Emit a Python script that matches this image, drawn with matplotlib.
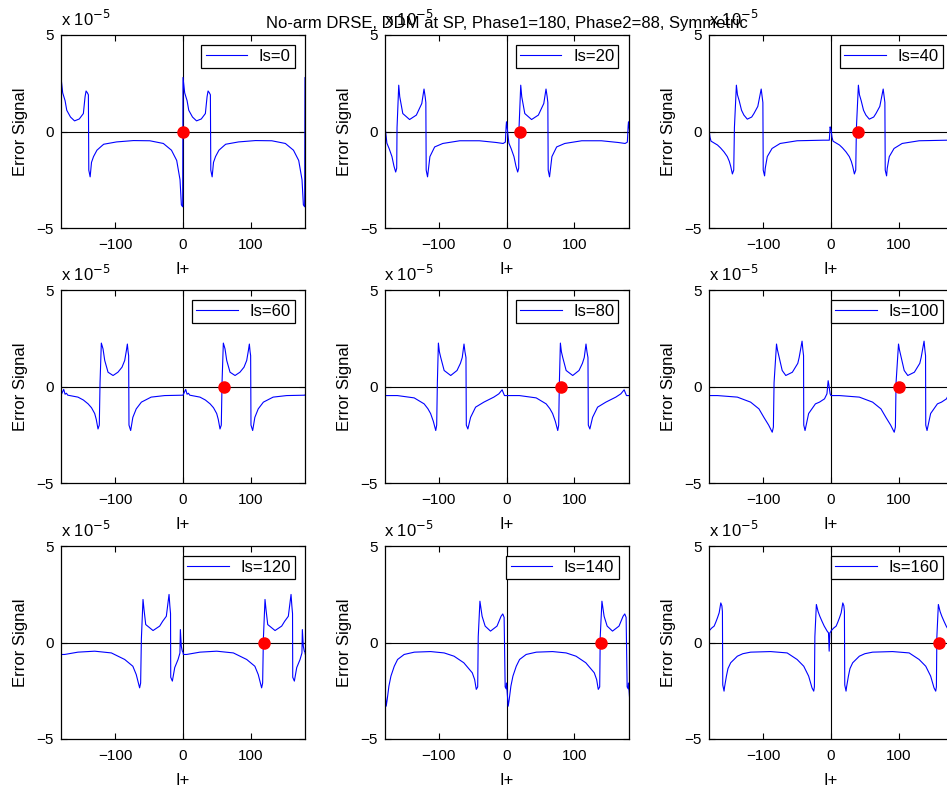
import numpy as np
import matplotlib.pyplot as plt

plt.rcParams['font.family'] = ['Liberation Sans', 'DejaVu Sans']
plt.rcParams['font.size'] = 12

title = "No-arm DRSE, DDM at SP, Phase1=180, Phase2=88, Symmetric"
ls_values = [0, 20, 40, 60, 80, 100, 120, 140, 160]

# one period (I+ from 0 to 180) of each trace, error signal in units of 1e-5
trace_ls0 = [(0, 2.8), (2.5, 2.0), (6, 1.6), (8.5, 1.1), (14, 0.75), (20, 0.55), (27, 0.65),
             (33, 0.93), (35.5, 1.8), (37, 2.1), (39, 2.0), (40.4, 1.9), (41, -2.0), (43, -2.35),
             (45, -1.6), (48, -1.3), (53, -0.97), (60, -0.75), (63, -0.66), (82, -0.54),
             (107, -0.47), (131, -0.48), (151, -0.62), (163, -0.97), (170.7, -1.5),
             (175.6, -2.5), (177.6, -3.8), (179.5, -3.9)]
trace_ls20 = [(0, 0.5), (1, 0.2), (3.5, -0.6), (7, -0.9), (11, -1.3), (14, -1.8), (16.5, -2.1),
              (18, -1.9), (18.5, 0.2), (21, 2.4), (22.5, 1.8), (27, 0.93), (37, 0.62), (47, 0.85),
              (55, 1.45), (58.3, 2.2), (60, 1.8), (61, 1.5), (61.5, -2.0), (63.5, -2.35),
              (67, -1.3), (74, -0.8), (86, -0.62), (111, -0.48), (140, -0.48), (165, -0.57),
              (175, -0.62), (178.3, -0.55), (179.5, 0.3)]
trace_ls40 = [(0, 0.1), (1.5, -0.3), (3, -0.5), (12.5, -0.7), (17, -0.85), (22, -1.05),
              (27, -1.3), (30, -1.55), (32, -1.8), (34.5, -2.2), (36.5, -2.0), (37.5, 0.2),
              (40.4, 2.4), (42, 1.9), (44.5, 1.6), (48, 1.1), (51.5, 0.85), (56.5, 0.64),
              (63, 0.75), (66.3, 0.93), (72, 1.3), (73.7, 1.6), (77, 2.2), (78.5, 1.8),
              (79.5, 1.5), (80, -2.0), (82, -2.3), (83, -1.9), (86, -1.3), (93, -0.88),
              (105, -0.62), (130, -0.48), (169, -0.45), (177.5, -0.45), (178.7, 0.24)]
trace_ls60 = [(0, -0.45), (4, -0.15), (6, -0.4), (8, -0.35), (10, -0.45), (25, -0.55),
              (33, -0.7), (40, -0.9), (45, -1.1), (49.7, -1.4), (52, -1.7), (54.6, -2.2),
              (56.5, -2.0), (57.6, 0.2), (59.5, 2.25), (62, 1.95), (64.5, 1.35), (69.4, 0.74),
              (76.8, 0.57), (84, 0.74), (90, 1.0), (94, 1.35), (96.5, 1.87), (97.9, 2.2),
              (99, 1.8), (99.8, 1.6), (100.3, -2.0), (102.8, -2.28), (106, -1.6), (111, -1.16),
              (118.6, -0.81), (133, -0.55), (153, -0.47), (179.5, -0.45)]
trace_ls80 = [(0, -0.47), (19, -0.47), (43.8, -0.59), (58.5, -0.9), (64, -1.15), (68, -1.4),
              (72, -1.8), (75.6, -2.28), (77, -2.0), (78, 0.2), (79.5, 2.25), (81, 1.8),
              (83, 1.5), (88, 0.83), (97.7, 0.57), (107, 0.83), (112, 1.2), (114.7, 1.5),
              (117.3, 2.2), (118.7, 1.8), (120.2, 1.5), (120.7, -2.0), (123, -2.2), (127, -1.6),
              (134.4, -1.07), (146.6, -0.81), (161.3, -0.55), (168.7, -0.38), (173.6, -0.17),
              (175, -0.3), (177, -0.47)]
trace_ls100 = [(0, -0.47), (12.5, -0.47), (41.8, -0.55), (61.4, -0.81), (73.7, -1.16),
               (81, -1.6), (88, -2.0), (93.3, -2.37), (95, -2.1), (96, 0.2), (99.6, 2.2),
               (101, 1.9), (103, 1.6), (108, 0.83), (113.3, 0.57), (123, 0.74), (131, 1.2),
               (133, 1.5), (137.3, 2.35), (138.5, 1.9), (139.5, 1.6), (139.8, -2.0),
               (141.7, -2.28), (147, -1.4), (157, -0.9), (163, -0.81), (170.4, -0.64),
               (174, -0.38), (175.8, 0.3), (177, 0.05), (178.7, -0.38), (179.9, -0.47)]
trace_ls120 = [(0, -0.5), (0.5, -0.62), (5.4, -0.62), (25, -0.5), (49.7, -0.45), (74.3, -0.54),
               (94, -0.88), (106, -1.23), (111, -1.66), (116, -2.35), (117.5, -2.1),
               (118.6, 0.2), (121, 2.23), (122.5, 1.7), (125, 0.93), (135.8, 0.62),
               (145.6, 0.85), (150, 1.1), (155.4, 1.36), (159.4, 2.49), (160.6, 1.9),
               (161.6, 1.5), (161.9, -1.8), (164.3, -2.0), (167.8, -1.3), (172.7, -0.88),
               (175.5, -0.54), (176.1, 0.67), (177.5, -0.19), (179, -0.45)]
trace_ls140 = [(0, -2.1), (2.5, -3.3), (4, -2.95), (6.5, -2.26), (9.5, -1.74), (14.4, -1.23),
               (19.3, -0.88), (29, -0.62), (44, -0.5), (68, -0.47), (88, -0.54), (102.6, -0.71),
               (117, -1.05), (129.5, -1.57), (133, -1.92), (135.4, -2.43), (137.5, -2.3),
               (138.3, 0.3), (140.8, 2.14), (144, 1.36), (148.5, 0.85), (156.4, 0.59),
               (166, 0.85), (172, 1.36), (174.5, 1.48), (176.5, 1.3), (178, -2.3), (179.5, -2.4)]
trace_ls160 = [(0, 0.6), (4, 0.75), (7.6, 0.85), (10, 1.05), (12.5, 1.28), (15, 1.54),
               (17.4, 2.05), (19, 1.9), (19.8, 1.6), (20.3, -2.2), (22.2, -2.52), (23, -2.3),
               (25.7, -1.74), (28, -1.35), (32, -1.05), (41.8, -0.71), (50, -0.58), (61.4, -0.5),
               (90.8, -0.47), (115.3, -0.54), (130, -0.88), (139.8, -1.23), (147, -1.74),
               (152, -2.35), (154.5, -2.52), (155.5, -2.3), (156.2, 0.3), (158.4, 1.97),
               (161, 1.6), (163.5, 1.36), (166.7, 1.1), (170, 0.85), (174.3, 0.59),
               (176.3, 0.5), (177.3, -0.45), (178.3, 0.5), (179.5, 0.55)]

traces = [trace_ls0, trace_ls20, trace_ls40, trace_ls60, trace_ls80,
          trace_ls100, trace_ls120, trace_ls140, trace_ls160]

W, H = 947, 790
fig = plt.figure(figsize=(W / 100, H / 100), dpi=100)

col_left = [61, 384.5, 709]
row_top = [35, 290, 546]
ax_w, ax_h = 244, 193

for k, (ls, tr) in enumerate(zip(ls_values, traces)):
    r, c = divmod(k, 3)
    ax = fig.add_axes([col_left[c] / W, 1 - (row_top[r] + ax_h) / H, ax_w / W, ax_h / H])
    px = np.array([p[0] for p in tr])
    py = np.array([p[1] for p in tr])
    # trace repeats every 180 in I+
    x = np.concatenate([px - 360, px - 180, px, px + 180])
    y = np.tile(py, 4)
    ax.axhline(0, color='k', lw=0.8, zorder=1)
    ax.axvline(0, color='k', lw=0.8, zorder=1)
    ax.plot(x, y, color='blue', lw=0.8, label=f"Is={ls}", zorder=2)
    ax.plot([ls], [0], 'o', color='red', markersize=8, zorder=3)
    ax.set_xlim(-180, 180)
    ax.set_ylim(-5, 5)
    ax.set_xticks([-100, 0, 100])
    ax.set_yticks([-5, 0, 5])
    ax.tick_params(direction='in', top=True, right=True, length=4, width=0.8, labelsize=11)
    ax.tick_params(axis='x', pad=7.5)
    ax.tick_params(axis='y', pad=5)
    for s in ax.spines.values():
        s.set_linewidth(0.9)
    ax.set_xlabel("I+", labelpad=7)
    ax.set_ylabel("Error Signal", labelpad=6)
    ax.text(0, 1.047, r"x 10$^{-5}$", transform=ax.transAxes, ha='left', va='baseline')
    leg = ax.legend(loc='upper right', fancybox=False, framealpha=1, edgecolor='black',
                    handlelength=2.5, handletextpad=0.7, borderpad=0.25, borderaxespad=0.6)
    leg.get_frame().set_linewidth(0.9)
    if k == 1:
        ax.set_title(title, fontsize=12, pad=5)

fig.savefig("out.png", dpi=100)
